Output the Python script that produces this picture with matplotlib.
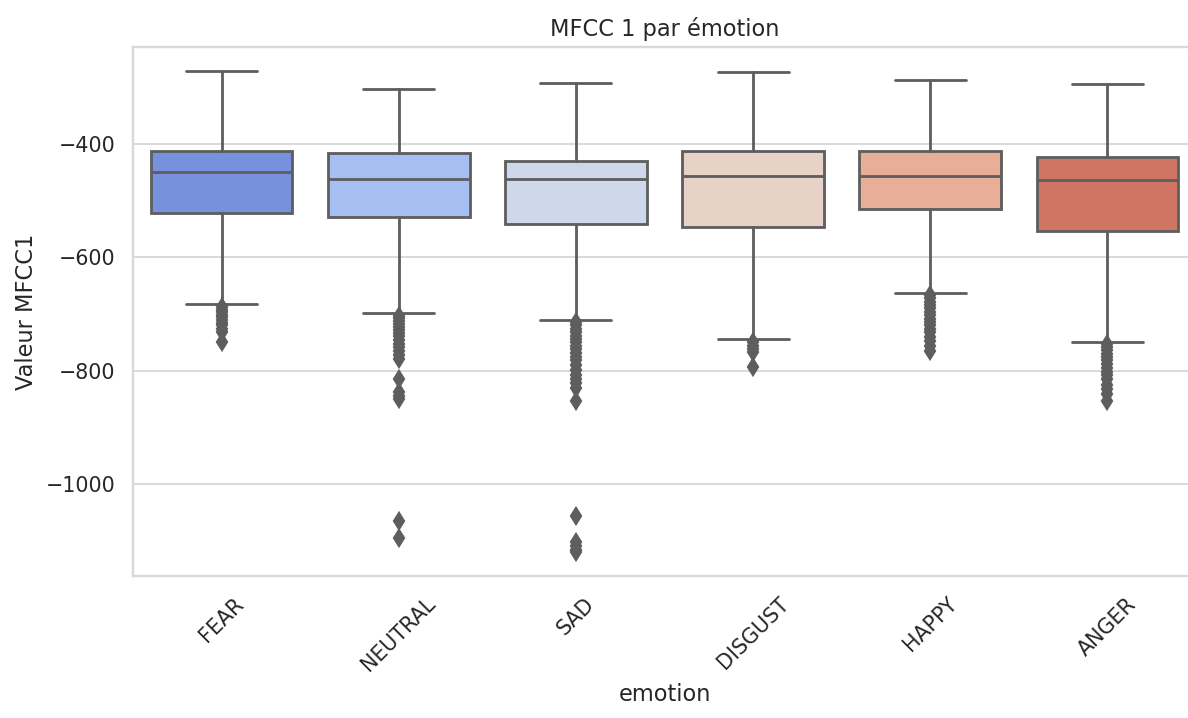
import numpy as np
import matplotlib
matplotlib.use("Agg")
import matplotlib.pyplot as plt
import seaborn as sns

# --- box statistics ---
emotions = ["FEAR", "NEUTRAL", "SAD", "DISGUST", "HAPPY", "ANGER"]
q1 = [-521, -529, -541, -546, -515, -553]
med = [-449, -461, -462, -456, -456, -464]
q3 = [-413, -415, -429, -413, -413, -422]
whis_lo = [-683, -698, -710, -744, -662, -749]
whis_hi = [-271, -302, -292, -272, -287, -294]

fliers_fear = [-688, -692, -697, -701, -705, -710, -715, -720, -726, -731, -750]
fliers_neutral = [-703, -707, -712, -718, -723, -728, -733, -738, -745, -752,
                  -758, -765, -772, -779, -815, -838, -845, -850, -1065, -1095]
fliers_sad = [-714, -720, -726, -732, -738, -744, -750, -756, -762, -768, -775,
              -782, -790, -798, -808, -815, -822, -830, -853,
              -1057, -1102, -1110, -1117, -1120]
fliers_disgust = [-750, -756, -762, -767, -794]
fliers_happy = [-666, -672, -678, -684, -690, -696, -702, -708, -714, -720,
                -726, -732, -740, -748, -756, -765]
fliers_anger = [-753, -758, -764, -770, -776, -782, -788, -795, -802, -808,
                -815, -825, -833, -842, -853]
fliers = [fliers_fear, fliers_neutral, fliers_sad, fliers_disgust,
          fliers_happy, fliers_anger]

sns.set_theme(style="whitegrid", rc={"grid.color": "#d8d8d8", "axes.edgecolor": "#d8d8d8"})

colors = [sns.desaturate(c, 0.75) for c in sns.color_palette("coolwarm", len(emotions))]
gray = "#5e5e5e"

stats = []
for i, name in enumerate(emotions):
    stats.append(dict(label=name, q1=q1[i], med=med[i], q3=q3[i],
                      whislo=whis_lo[i], whishi=whis_hi[i],
                      fliers=np.array(fliers[i])))

fig = plt.figure(figsize=(1188 / 135, 718 / 135), dpi=135)
ax = fig.add_axes([133 / 1188, 1 - 576 / 718, (1196 - 133) / 1188, (576 - 47) / 718])

lw = 1.5
bp = ax.bxp(stats, positions=range(len(emotions)), widths=0.8, capwidths=0.4,
            patch_artist=True,
            boxprops=dict(edgecolor=gray, linewidth=lw),
            whiskerprops=dict(color=gray, linewidth=lw),
            capprops=dict(color=gray, linewidth=lw),
            medianprops=dict(color=gray, linewidth=lw),
            flierprops=dict(marker="d", markersize=6, markerfacecolor=gray,
                            markeredgecolor=gray, markeredgewidth=1.2,
                            linestyle="none"))
for patch, c in zip(bp["boxes"], colors):
    patch.set_facecolor(c)

ax.set_xlim(-0.5, len(emotions) - 0.5)
ax.xaxis.grid(False)
ax.set_xticks(range(len(emotions)))
ax.set_xticklabels(emotions, rotation=45)
ax.set_yticks([-1000, -800, -600, -400])
ax.set_xlabel("emotion")
ax.set_ylabel("Valeur MFCC1")
ax.set_title("MFCC 1 par émotion")

fig.savefig("out.png", dpi=135)
